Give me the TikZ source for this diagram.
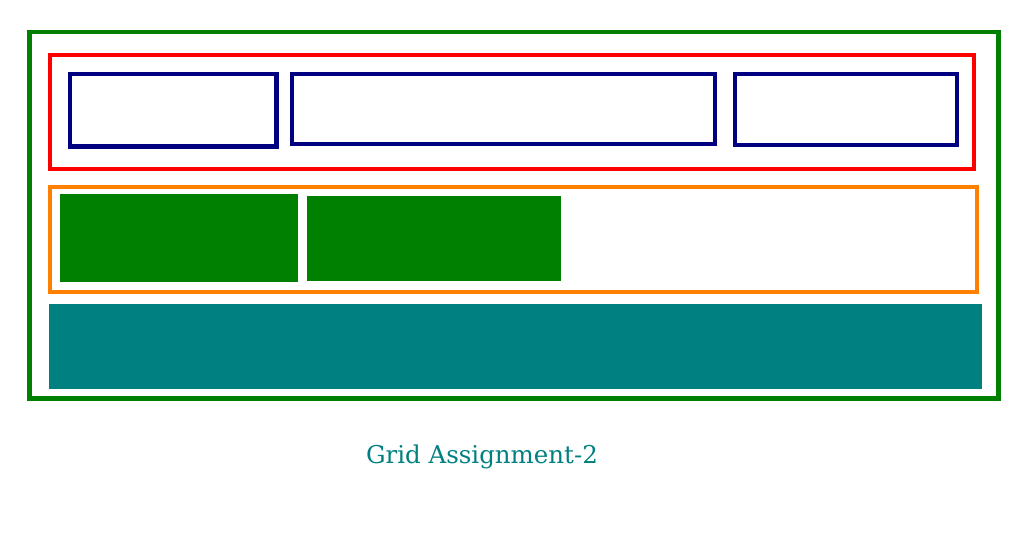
\documentclass[tikz,border=0pt]{standalone}
\usepackage{fontspec}
\newfontfamily\labelfont{DejaVu Serif}
\definecolor{cgreen}{HTML}{008000}
\definecolor{cred}{HTML}{FF0000}
\definecolor{cnavy}{HTML}{000080}
\definecolor{corange}{HTML}{FF8000}
\definecolor{cteal}{HTML}{008080}
\begin{document}
\begin{tikzpicture}[x=1pt,y=-1pt,
  outerbox/.style={draw=cgreen,line width=4.5pt},
  rowbox/.style={line width=4.5pt},
  cellbox/.style={draw=cnavy,line width=4.5pt},
  fillbox/.style={fill=cgreen},
  footbox/.style={fill=cteal},
  caption/.style={text=cteal,font=\labelfont\fontsize{24.5}{28}\selectfont,inner sep=0pt,anchor=base}]
\useasboundingbox (0,0) rectangle (1024,546);
\draw[outerbox] (29.5,31.8) rectangle (998.7,398.5);
\draw[rowbox,draw=cred] (50,55) rectangle (974.2,168.8);
\draw[cellbox] (70,74) rectangle (276.7,146.5);
\draw[cellbox] (292,74) rectangle (714.8,144);
\draw[cellbox] (735.2,74) rectangle (956.8,145);
\draw[rowbox,draw=corange] (49.8,186.8) rectangle (976.8,291.8);
\fill[fillbox] (60.3,194.3) rectangle (298.3,282.3);
\fill[fillbox] (306.5,196.2) rectangle (561.3,281.3);
\fill[footbox] (49.3,304) rectangle (981.7,389.3);
\node[caption] (title) at (482,463) {Grid Assignment-2};
\end{tikzpicture}
\end{document}
